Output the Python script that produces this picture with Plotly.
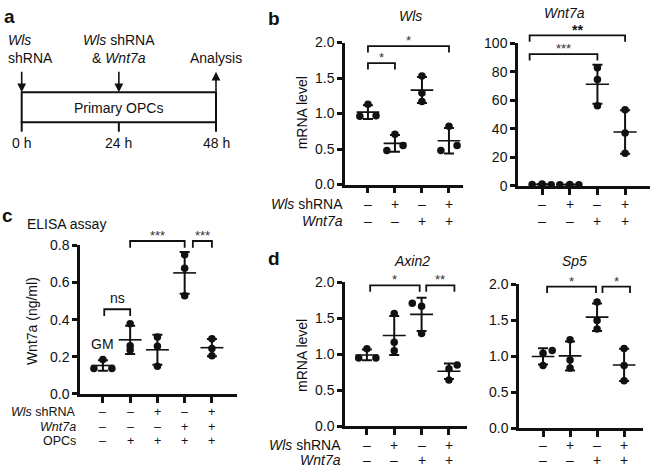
import plotly.graph_objects as go
import numpy as np

W, H = 651, 476
FONT = "Liberation Sans, Arial, Helvetica, sans-serif"
FS = 14
INK = "#111111"

# ---------------- data ----------------
# panel b: Wls mRNA (relative level), 4 groups x 3 replicates
wls_groups = [[1.13, 0.96, 0.97], [0.71, 0.48, 0.55], [1.53, 1.29, 1.17], [0.82, 0.48, 0.55]]
wls_jitter = [[0, -0.3, 0.3], [0, -0.3, 0.3], [0, 0, 0], [0, -0.3, 0.3]]
wls_ticks = [0, 0.5, 1.0, 1.5, 2.0]
wls_brackets = [(0, 1, 1.71, "*"), (0, 3, 1.95, "*")]

# panel b: Wnt7a mRNA
wnt7a_groups = [[1.0, 1.3, 0.8], [0.7, 1.0, 0.8], [83.0, 74.7, 56.3], [53.4, 37.1, 22.9]]
wnt7a_jitter = [[-0.36, 0, 0.33], [-0.36, 0, 0.33], [0, 0, 0], [0, 0, 0]]
wnt7a_ticks = [0, 20, 40, 60, 80, 100]
wnt7a_brackets = [(-0.45, 2, 92.5, "***"), (-0.45, 3, 105.7, "<b>**</b>")]

# panel c: ELISA Wnt7a (ng/ml), 5 groups
elisa_groups = [[0.185, 0.137, 0.137], [0.378, 0.26, 0.236], [0.307, 0.257, 0.149],
                [0.75, 0.677, 0.529], [0.297, 0.245, 0.205]]
elisa_jitter = [[0, -0.33, 0.33], [0, 0, 0], [0, 0, 0], [0, 0, 0], [0, 0, 0]]
elisa_ticks = [0, 0.2, 0.4, 0.6, 0.8]
elisa_brackets = [(0.05, 1, 0.456, "ns"), (1, 3, 0.824, "***"), (3.3, 4, 0.824, "***")]

# panel d: Axin2 and Sp5 mRNA
axin2_groups = [[1.08, 0.95, 0.95], [1.57, 1.17, 1.05], [1.71, 1.67, 1.29], [0.855, 0.80, 0.645]]
axin2_jitter = [[0, -0.3, 0.33], [0, 0, 0], [-0.34, 0, 0], [0.3, 0, 0]]
axin2_brackets = [(0.12, 1.93, 1.96, "*"), (2.17, 3.2, 1.96, "**")]

sp5_groups = [[1.043, 1.083, 0.872], [1.23, 0.95, 0.84], [1.754, 1.5, 1.38], [1.11, 0.872, 0.662]]
sp5_jitter = [[0, 0.34, 0], [0, 0, 0], [0, 0, 0], [0, 0, 0]]
sp5_brackets = [(0.15, 1.96, 1.97, "*"), (2.2, 3.22, 1.97, "*")]
mrna_ticks = [0, 0.5, 1.0, 1.5, 2.0]

# condition rows
wls_shrna_bd = ["–", "+", "–", "+"]
wnt7a_bd = ["–", "–", "+", "+"]
wls_shrna_c = ["–", "–", "+", "–", "+"]
wnt7a_c = ["–", "–", "–", "+", "+"]
opcs_c = ["–", "+", "+", "+", "+"]

# panel a timeline
time_points = [0, 24, 48]
time_labels = ["0 h", "24 h", "48 h"]


def fx(p):
    return p / W


def fy(p):
    return 1 - p / H


fig = go.Figure()
annotations = []
shapes = []
layout_axes = {}


def axname(aid):
    return aid[0] + "axis" + aid[1:]


def ann(text, x, y, xref="paper", yref="paper", size=FS, **kw):
    d = dict(text=text, x=x, y=y, xref=xref, yref=yref, showarrow=False,
             font=dict(family=FONT, size=size, color=INK))
    d.update(kw)
    annotations.append(d)


panels = [
    dict(xa="x", ya="y", ye="y6", groups=wls_groups, jit=wls_jitter, br=wls_brackets,
         xdom=(345, 463), xr=(-0.85, 3.52), ybot=182.7, ytop=35.7, ymax=2.0,
         ticks=wls_ticks, tfmt="{:.1f}", etop=0),
    dict(xa="x2", ya="y2", ye="y7", groups=wnt7a_groups, jit=wnt7a_jitter, br=wnt7a_brackets,
         xdom=(518, 650), xr=(-0.87, 3.9), ybot=184, ytop=36.7, ymax=100,
         ticks=wnt7a_ticks, tfmt="{:.0f}", etop=0),
    dict(xa="x3", ya="y3", ye="y8", groups=elisa_groups, jit=elisa_jitter, br=elisa_brackets,
         xdom=(80, 237), xr=(-0.84, 4.92), ybot=399.3, ytop=245.7, ymax=0.8,
         ticks=elisa_ticks, tfmt="{:.1f}", etop=222),
    dict(xa="x4", ya="y4", ye="y9", groups=axin2_groups, jit=axin2_jitter, br=axin2_brackets,
         xdom=(345, 467), xr=(-0.8, 3.66), ybot=433, ytop=284, ymax=2.0,
         ticks=mrna_ticks, tfmt="{:.1f}", etop=262),
    dict(xa="x5", ya="y5", ye="y10", groups=sp5_groups, jit=sp5_jitter, br=sp5_brackets,
         xdom=(519, 643), xr=(-0.89, 3.7), ybot=435, ytop=286, ymax=2.0,
         ticks=mrna_ticks, tfmt="{:.1f}", etop=262),
]

for p in panels:
    n = len(p["groups"])
    # points
    xs, ys = [], []
    for i, (g, j) in enumerate(zip(p["groups"], p["jit"])):
        for v, o in zip(g, j):
            xs.append(i + o)
            ys.append(v)
    means = [float(np.mean(g)) for g in p["groups"]]
    sds = [float(np.std(g, ddof=1)) for g in p["groups"]]
    # mean lines
    mx, my = [], []
    for i, m in enumerate(means):
        mx += [i - 0.42, i + 0.42, None]
        my += [m, m, None]
    fig.add_trace(go.Scatter(x=mx, y=my, mode="lines", line=dict(color=INK, width=1.6),
                             xaxis=p["xa"], yaxis=p["ya"], hoverinfo="skip"))
    fig.add_trace(go.Scatter(x=list(range(n)), y=means, mode="markers",
                             marker=dict(size=1, color="rgba(0,0,0,0)"),
                             error_y=dict(type="data", array=sds, visible=True, color=INK,
                                          thickness=2, width=5),
                             xaxis=p["xa"], yaxis=p["ya"], hoverinfo="skip"))
    fig.add_trace(go.Scatter(x=xs, y=ys, mode="markers", cliponaxis=False,
                             marker=dict(size=7.5, color=INK, symbol="circle"),
                             xaxis=p["xa"], yaxis=p["ya"]))
    # significance brackets
    leg = 0.045 * p["ymax"]
    for a, b, h, lab in p["br"]:
        fig.add_trace(go.Scatter(x=[a, a, b, b], y=[h - leg, h, h, h - leg], mode="lines",
                                 line=dict(color=INK, width=1.8),
                                 xaxis=p["xa"], yaxis=p["ye"], hoverinfo="skip"))
        if lab == "ns":
            ann(lab, (a + b) / 2, h, xref=p["xa"], yref=p["ye"], yanchor="bottom", yshift=1)
        elif "<b>" in lab:
            ann(lab, (a + b) / 2, h, xref=p["xa"], yref=p["ye"], yanchor="middle", yshift=5,
                font=dict(family=FONT, size=14, color=INK))
        else:
            ann(lab, (a + b) / 2, h, xref=p["xa"], yref=p["ye"], yanchor="bottom", yshift=-4,
                font=dict(family=FONT, size=13, color="#333333"))
    # axes
    layout_axes[axname(p["xa"])] = dict(
        domain=[fx(p["xdom"][0]), fx(p["xdom"][1])], range=list(p["xr"]), anchor=p["ya"],
        showline=True, linewidth=2.5, linecolor=INK, ticks="outside",
        tickvals=list(range(n)), ticklen=6, tickwidth=2.5, tickcolor=INK,
        showticklabels=False, showgrid=False, zeroline=False, fixedrange=True)
    layout_axes[axname(p["ya"])] = dict(
        domain=[fy(p["ybot"]), fy(p["ytop"])], range=[0, p["ymax"]], anchor=p["xa"],
        showline=True, linewidth=2.5, linecolor=INK, ticks="outside", ticklen=5,
        tickwidth=2.5, tickcolor=INK, tickvals=p["ticks"],
        ticktext=[p["tfmt"].format(t) for t in p["ticks"]],
        tickfont=dict(family=FONT, size=FS, color=INK),
        showgrid=False, zeroline=False, fixedrange=True)
    ext = p["ymax"] * (p["ybot"] - p["etop"]) / (p["ybot"] - p["ytop"])
    layout_axes[axname(p["ye"])] = dict(
        domain=[fy(p["ybot"]), min(1.0, fy(p["etop"]))], range=[0, ext], anchor=p["xa"],
        visible=False, fixedrange=True)

# ---- condition rows ----
def rows(labels, rowvals, xaxes, ypix, xright, size=FS):
    for lab, yp in zip(labels, ypix):
        ann(lab, fx(xright), fy(yp), size=size, xanchor="right", yanchor="middle")
    for vals, yp in zip(rowvals, ypix):
        for xa in xaxes:
            for i, s in enumerate(vals):
                ann(s, i, fy(yp), xref=xa, size=size, yanchor="middle")


rows(["<i>Wls</i> shRNA", "<i>Wnt7a</i>"], [wls_shrna_bd, wnt7a_bd], ["x", "x2"], [202.7, 220], 345)
rows(["<i>Wls</i> shRNA", "<i>Wnt7a</i>", "OPCs"], [wls_shrna_c, wnt7a_c, opcs_c], ["x3"],
     [418.5, 433.5, 448.5], 78, size=12.5)
rows(["<i>Wls</i> shRNA", "<i>Wnt7a</i>"], [wls_shrna_bd, wnt7a_bd], ["x4", "x5"], [452.5, 467.5], 343)

# ---- titles & axis titles ----
ann("<i>Wls</i>", fx(410), fy(8), yanchor="middle")
ann("<i>Wnt7a</i>", fx(587), fy(5.5), yanchor="middle")
ann("<i>Axin2</i>", fx(412), fy(262), yanchor="middle")
ann("<i>Sp5</i>", fx(589), fy(262), yanchor="middle")
ann("ELISA assay", fx(25), fy(223), xanchor="left", yanchor="middle")
ann("GM", 0, 0.267, xref="x3", yref="y3", yanchor="middle")
ann("mRNA level", fx(302), fy(109), textangle=-90, xanchor="center", yanchor="middle")
ann("mRNA level", fx(302), fy(360), textangle=-90, xanchor="center", yanchor="middle")
ann("Wnt7a (ng/ml)", fx(32), fy(324), textangle=-90, xanchor="center", yanchor="middle")

# panel letters
for letter, xp, yp in [("a", 9, 9), ("b", 274, 11), ("c", 7, 215), ("d", 274, 259)]:
    ann("<b>%s</b>" % letter, fx(xp), fy(yp), xanchor="center", yanchor="middle",
        font=dict(family=FONT, size=19, color=INK))

# ---- panel a: timeline schematic ----
fig.add_trace(go.Scatter(x=[None], y=[None], xaxis="x6", yaxis="y11", showlegend=False))
layout_axes["xaxis6"] = dict(domain=[0, fx(240)], range=[-5.36, 53.93], anchor="y11",
                             visible=False, fixedrange=True)
layout_axes["yaxis11"] = dict(domain=[fy(150), fy(20)], range=[0, 1], anchor="x6",
                              visible=False, fixedrange=True)
shapes.append(dict(type="rect", xref="x6", yref="paper", x0=time_points[0], x1=time_points[-1],
                   y0=fy(118.3), y1=fy(87.3), line=dict(color=INK, width=2)))
for t, lab in zip(time_points, time_labels):
    shapes.append(dict(type="line", xref="x6", yref="paper", x0=t, x1=t, y0=fy(118.3), y1=fy(128),
                       line=dict(color=INK, width=2)))
    ann(lab, t, fy(140), xref="x6", yanchor="middle")
# arrows
for t in time_points[:2]:
    annotations.append(dict(x=t, y=fy(87.3), xref="x6", yref="paper", text="", showarrow=True,
                            ax=0, ay=-22, arrowhead=2, arrowsize=1.1, arrowwidth=1.6,
                            arrowcolor=INK))
annotations.append(dict(x=time_points[2], y=fy(66), xref="x6", yref="paper", text="",
                        showarrow=True, ax=0, ay=21, arrowhead=2, arrowsize=1.1,
                        arrowwidth=1.6, arrowcolor=INK))
ann("Primary OPCs", 24, fy(103), xref="x6", yanchor="middle")
ann("<i>Wls</i><br>shRNA", fx(6), fy(42.5), xanchor="left", yanchor="middle", align="left")
ann("<i>Wls</i> shRNA<br>& <i>Wnt7a</i>", 24, fy(42.5), xref="x6", yanchor="middle")
ann("Analysis", 48, fy(52), xref="x6", yanchor="middle")

fig.update_layout(
    width=W, height=H, margin=dict(l=0, r=0, t=0, b=0),
    paper_bgcolor="white", plot_bgcolor="rgba(0,0,0,0)",
    showlegend=False, annotations=annotations, shapes=shapes,
    font=dict(family=FONT, size=FS, color=INK),
    **layout_axes,
)

fig.write_html("out.html", config={"displayModeBar": False},
               post_script="document.body.style.margin='0px';")
